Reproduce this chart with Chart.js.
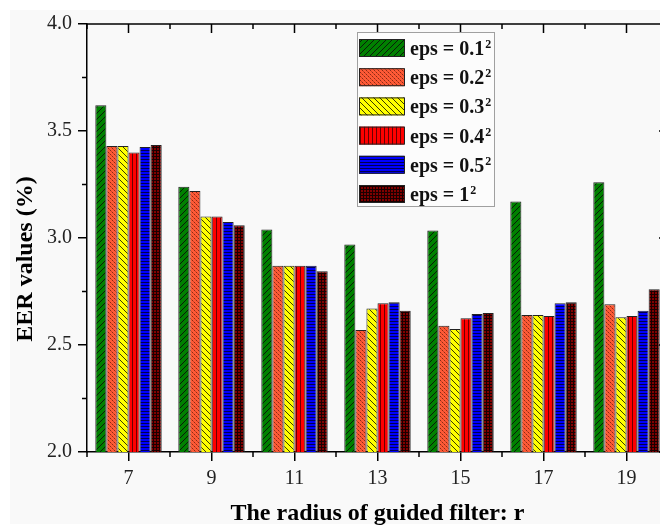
<!DOCTYPE html>
<html>
<head>
<meta charset="utf-8">
<script src="https://cdn.jsdelivr.net/npm/chart.js@4"></script>
<style>
  body { margin: 0; overflow: hidden; background: #fff; }
  #wrap { position: relative; width: 680px; height: 526px; }
  #bg { position: absolute; left: 10px; top: 10px; width: 670px; height: 514px; background: #f9f9f9; }
  canvas { position: absolute; left: 0; top: 0; }
</style>
</head>
<body>
<div id="wrap"><div id="bg"></div><canvas id="eer" width="680" height="526"></canvas></div>
<script>
// filter radius r on the x axis
const radius = ['7', '9', '11', '13', '15', '17', '19'];
// eps values of the six series (each one squared in the legend)
const epsLabels = ['0.1', '0.2', '0.3', '0.4', '0.5', '1'];
const eps01 = [3.62, 3.24, 3.04, 2.97, 3.035, 3.17, 3.26];
const eps02 = [3.43, 3.22, 2.87, 2.57, 2.59, 2.64, 2.69];
const eps03 = [3.43, 3.10, 2.87, 2.67, 2.575, 2.64, 2.63];
const eps04 = [3.40, 3.10, 2.87, 2.695, 2.625, 2.635, 2.635];
const eps05 = [3.425, 3.075, 2.87, 2.70, 2.645, 2.695, 2.66];
const eps1 = [3.435, 3.06, 2.845, 2.66, 2.65, 2.70, 2.76];
const yTicks = [2.0, 2.5, 3.0, 3.5, 4.0];

const serif = '"Liberation Serif", "Times New Roman", serif';

function pattern(bg, size, draw) {
  const c = document.createElement('canvas');
  c.width = c.height = size;
  const g = c.getContext('2d');
  g.fillStyle = bg;
  g.fillRect(0, 0, size, size);
  draw(g, size);
  return g.createPattern(c, 'repeat');
}

const fills = [
  pattern('#008000', 6, (g, s) => {
    g.strokeStyle = '#0a1a0a'; g.lineWidth = 1;
    g.beginPath();
    for (const k of [-s, 0, s]) { g.moveTo(k, s); g.lineTo(k + s, 0); }
    g.stroke();
  }),
  pattern('#ff5a36', 4, (g, s) => {
    g.fillStyle = '#8c2a14';
    g.fillRect(0, 0, 1, 1); g.fillRect(2, 2, 1, 1);
    g.fillStyle = '#c8452a';
    g.fillRect(1, 1, 1, 1); g.fillRect(3, 3, 1, 1);
  }),
  pattern('#ffff00', 6, (g, s) => {
    g.strokeStyle = '#3a3a00'; g.lineWidth = 1;
    g.beginPath();
    for (const k of [-s, 0, s]) { g.moveTo(k, 0); g.lineTo(k + s, s); }
    g.stroke();
  }),
  pattern('#ff0000', 4, (g, s) => {
    g.fillStyle = '#6a0000';
    g.fillRect(0, 0, 1, s);
  }),
  pattern('#0000ff', 3, (g, s) => {
    g.fillStyle = '#000050';
    g.fillRect(0, 0, s, 1);
  }),
  pattern('#800000', 3, (g, s) => {
    g.fillStyle = '#1a0000';
    g.fillRect(0, 0, s, 1);
    g.fillRect(0, 0, 1, s);
  })
];

const series = [eps01, eps02, eps03, eps04, eps05, eps1];

// frame: top and right axis lines, inward ticks there, minor ticks everywhere
const frame = {
  id: 'frame',
  afterDraw(chart) {
    const { ctx, chartArea: a, scales: { x, y } } = chart;
    const half = (x.getPixelForValue(1) - x.getPixelForValue(0)) / 2;
    ctx.save();
    ctx.strokeStyle = '#000';
    ctx.lineWidth = 1.5;
    ctx.beginPath();
    ctx.moveTo(a.left, a.top); ctx.lineTo(a.right, a.top); ctx.lineTo(a.right, a.bottom);
    radius.forEach((r, i) => {
      const px = x.getPixelForValue(i);
      ctx.moveTo(px, a.top); ctx.lineTo(px, a.top + 9);
      for (const bx of [px - half, px + half]) {
        ctx.moveTo(bx, a.top); ctx.lineTo(bx, a.top + 5);
        ctx.moveTo(bx, a.bottom); ctx.lineTo(bx, a.bottom + 5);
      }
    });
    yTicks.forEach((v, i) => {
      const py = y.getPixelForValue(v);
      ctx.moveTo(a.right, py); ctx.lineTo(a.right - 9, py);
      if (i < yTicks.length - 1) {
        const my = y.getPixelForValue((v + yTicks[i + 1]) / 2);
        ctx.moveTo(a.left, my); ctx.lineTo(a.left - 5, my);
        ctx.moveTo(a.right, my); ctx.lineTo(a.right - 5, my);
      }
    });
    ctx.stroke();
    ctx.restore();
  }
};

// legend box inside the plot, near the top
const boxLegend = {
  id: 'boxLegend',
  afterDraw(chart) {
    const { ctx, chartArea: a } = chart;
    const left = a.left + 270, top = a.top + 8, w = 137, h = 174, pitch = 29.2;
    ctx.save();
    ctx.fillStyle = '#fcfcfc';
    ctx.fillRect(left, top, w, h);
    ctx.strokeStyle = '#a0a0a0';
    ctx.lineWidth = 1;
    ctx.strokeRect(left + 0.5, top + 0.5, w, h);
    epsLabels.forEach((lab, i) => {
      const sy = top + 7 + i * pitch;
      ctx.fillStyle = fills[i];
      ctx.fillRect(left + 2, sy, 45, 18);
      ctx.strokeStyle = '#222';
      ctx.strokeRect(left + 2.5, sy + 0.5, 45, 17);
      ctx.fillStyle = '#111';
      ctx.font = 'bold 20px ' + serif;
      ctx.textBaseline = 'alphabetic';
      const txt = 'eps = ' + lab;
      ctx.fillText(txt, left + 53, sy + 16);
      const tw = ctx.measureText(txt).width;
      ctx.font = 'bold 12px ' + serif;
      ctx.fillText('2', left + 54 + tw, sy + 9);
    });
    ctx.restore();
  }
};

new Chart(document.getElementById('eer'), {
  type: 'bar',
  data: {
    labels: radius,
    datasets: series.map((d, i) => ({
      label: 'eps = ' + epsLabels[i] + '\u00b2',
      data: d,
      backgroundColor: fills[i],
      borderColor: '#222',
      borderWidth: 1,
      borderSkipped: 'bottom',
      categoryPercentage: 0.8,
      barPercentage: 1.0
    }))
  },
  options: {
    responsive: false,
    animation: false,
    layout: { padding: { top: 24, right: 12, left: 0, bottom: 0 } },
    plugins: { legend: { display: false }, tooltip: { enabled: false } },
    scales: {
      x: {
        offset: true,
        grid: { offset: false, drawOnChartArea: false, tickLength: 9, color: '#000', lineWidth: 1.5 },
        border: { color: '#000', width: 1.5 },
        ticks: { color: '#222', padding: 6, font: { family: serif, size: 20 } },
        title: {
          display: true, text: 'The radius of guided filter: r', color: '#000',
          font: { family: serif, size: 24, weight: 'bold', lineHeight: 1 }, padding: { bottom: 0 }
        },
        afterFit: s => { s.height = 74; }
      },
      y: {
        min: 2, max: 4,
        afterBuildTicks: s => { s.ticks = yTicks.map(v => ({ value: v })); },
        grid: { drawOnChartArea: false, tickLength: 9, color: '#000', lineWidth: 1.5 },
        border: { color: '#000', width: 1.5 },
        ticks: { color: '#222', padding: 6, font: { family: serif, size: 20 }, callback: v => v.toFixed(1) },
        title: {
          display: true, text: 'EER values (%)       ', color: '#000',
          font: { family: serif, size: 24, weight: 'bold', lineHeight: 1 }, padding: { top: 14 }
        },
        afterFit: s => { s.width = 87; }
      }
    }
  },
  plugins: [frame, boxLegend]
});
</script>
</body>
</html>
